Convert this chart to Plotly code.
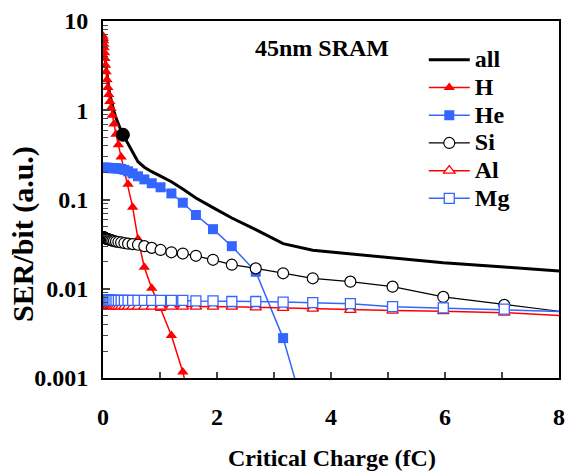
import plotly.graph_objects as go

# Critical charge grid (fC)
q = [0.0, 0.005, 0.01, 0.015, 0.02, 0.027, 0.035, 0.045, 0.055, 0.07, 0.085, 0.1,
     0.12, 0.14, 0.164, 0.193, 0.228, 0.27, 0.318, 0.375, 0.44, 0.52, 0.614, 0.725,
     0.855, 1.01, 1.2, 1.4, 1.63, 1.93, 2.26, 2.68, 3.16, 3.68, 4.34, 5.08, 5.97,
     7.04, 8.3]

ser_all = [7.1, 6.7, 6.3, 5.8, 5.3, 4.7, 4.1, 3.5, 3.0, 2.5, 2.1, 1.8,
           1.5, 1.3, 1.15, 0.97, 0.82, 0.69, 0.59, 0.50, 0.42, 0.33, 0.265, 0.23,
           0.205, 0.183, 0.158, 0.131, 0.104, 0.081, 0.062, 0.046, 0.032, 0.027, 0.0245, 0.022, 0.0195,
           0.0175, 0.0153]

ser_H = [6.8, 6.4, 6.0, 5.5, 5.0, 4.4, 3.8, 3.2, 2.7, 2.2, 1.8, 1.5,
         1.25, 1.05, 0.88, 0.70, 0.54, 0.41, 0.30, 0.21, 0.148, 0.082, 0.036, 0.0174,
         0.0101, 0.0060, 0.0030, 0.00117, 0.00028]

ser_He = [0.226, 0.226, 0.226, 0.226, 0.226, 0.226, 0.226, 0.226, 0.226, 0.226, 0.226, 0.226,
          0.225, 0.225, 0.225, 0.224, 0.224, 0.222, 0.220, 0.215, 0.207, 0.196, 0.182, 0.168,
          0.152, 0.137, 0.117, 0.092, 0.067, 0.0465, 0.030, 0.0155, 0.0028, 0.0002]

ser_Si = [0.038, 0.038, 0.0378, 0.0376, 0.0374, 0.0372, 0.037, 0.0368, 0.0365, 0.0362, 0.036, 0.0357,
          0.0353, 0.035, 0.0346, 0.0342, 0.0338, 0.0334, 0.033, 0.0325, 0.032, 0.0316, 0.0311, 0.030,
          0.0287, 0.0272, 0.0256, 0.0248, 0.0234, 0.0211, 0.0186, 0.0169, 0.0149, 0.0131, 0.0120, 0.01055, 0.0081,
          0.0066, 0.0053]

ser_Al = [0.0064, 0.0064, 0.0064, 0.0064, 0.0064, 0.0064, 0.0064, 0.0064, 0.0064, 0.0064, 0.0064, 0.0064,
          0.0063, 0.0063, 0.0063, 0.0063, 0.0063, 0.0063, 0.0063, 0.0063, 0.0063, 0.0063, 0.0063, 0.0063,
          0.0063, 0.0063, 0.0063, 0.0063, 0.0063, 0.0063, 0.0063, 0.0062, 0.0061, 0.0060, 0.0058, 0.0057, 0.0056,
          0.0054, 0.0049]

ser_Mg = [0.0075, 0.0075, 0.0075, 0.0075, 0.0075, 0.0075, 0.0075, 0.0075, 0.0075, 0.0075, 0.0075, 0.0075,
          0.0074, 0.0074, 0.0074, 0.0074, 0.0074, 0.0074, 0.0074, 0.0074, 0.0074, 0.0074, 0.0074, 0.0074,
          0.0074, 0.0074, 0.0074, 0.0074, 0.0073, 0.0073, 0.0072, 0.0072, 0.0071, 0.0070, 0.0068, 0.0063, 0.0061,
          0.0059, 0.0055]

dot_q = [0.35]
dot_ser = [0.53]

y_tickvals = [0.001, 0.01, 0.1, 1, 10]
y_ticktext = ["0.001", "0.01", "0.1", "1", "10"]
y_minor = [m * d for d in (0.001, 0.01, 0.1, 1) for m in range(2, 10)]

RED = "#FF0000"
BLUE = "#3366FF"
FONT = "Liberation Serif"


def lg(name):
    return f"<span style='font-size:24px'>{name}</span>"


fig = go.Figure()
fig.add_trace(go.Scatter(x=q, y=ser_all, name=lg("all"), mode="lines",
                         line=dict(color="black", width=3)))
fig.add_trace(go.Scatter(x=q[:len(ser_H)], y=ser_H, name=lg("H"), mode="lines+markers",
                         line=dict(color=RED, width=1.5),
                         marker=dict(symbol="triangle-up", size=10, color=RED)))
fig.add_trace(go.Scatter(x=q[:len(ser_He)], y=ser_He, name=lg("He"), mode="lines+markers",
                         line=dict(color=BLUE, width=1.5),
                         marker=dict(symbol="square", size=10, color=BLUE)))
fig.add_trace(go.Scatter(x=q, y=ser_Si, name=lg("Si"), mode="lines+markers",
                         line=dict(color="black", width=1.2),
                         marker=dict(symbol="circle", size=11, color="white",
                                     line=dict(color="black", width=1.2))))
fig.add_trace(go.Scatter(x=q, y=ser_Al, name=lg("Al"), mode="lines+markers",
                         line=dict(color=RED, width=1.5),
                         marker=dict(symbol="triangle-up", size=10, color="white",
                                     line=dict(color=RED, width=1.3))))
fig.add_trace(go.Scatter(x=q, y=ser_Mg, name=lg("Mg"), mode="lines+markers",
                         line=dict(color=BLUE, width=1.5),
                         marker=dict(symbol="square", size=10, color="white",
                                     line=dict(color=BLUE, width=1.3))))
fig.add_trace(go.Scatter(x=dot_q, y=dot_ser, mode="markers", showlegend=False,
                         marker=dict(symbol="circle", size=14, color="black")))

L, T, W, H = 103, 21, 462, 357


def px(xp):
    return (xp - L) / W


def py(yp):
    return 1 - (yp - T) / H


fig.update_layout(
    width=571, height=471,
    margin=dict(l=L, r=571 - L - W, t=T, b=471 - T - H),
    paper_bgcolor="white", plot_bgcolor="white",
    font=dict(family=FONT, size=24, color="black", weight="bold"),
    showlegend=True,
    legend=dict(x=px(428), y=py(41), xanchor="left", yanchor="top",
                bgcolor="rgba(0,0,0,0)", borderwidth=0, itemwidth=41,
                font=dict(family=FONT, size=19, color="black", weight="bold")),
    annotations=[
        dict(text="45nm SRAM", x=px(325), y=py(48), xref="paper", yref="paper",
             xanchor="center", yanchor="middle",
             showarrow=False, font=dict(family=FONT, size=24, weight="bold")),
        dict(text="Critical Charge (fC)", x=px(335), y=py(458), xref="paper", yref="paper",
             xanchor="center", yanchor="middle",
             showarrow=False, font=dict(family=FONT, size=24, weight="bold")),
        dict(text="SER/bit (a.u.)", x=px(22), y=py(234), xref="paper", yref="paper",
             xanchor="center", yanchor="middle",
             textangle=-90, showarrow=False, font=dict(family=FONT, size=30, weight="bold")),
    ],
)

fig.update_xaxes(range=[0, 8], dtick=2, tick0=0, ticks="inside", ticklen=6, tickwidth=1.5,
                 showline=True, linecolor="black", linewidth=2, mirror=True,
                 showgrid=False, zeroline=False, ticklabelstandoff=16,
                 minor=dict(dtick=1, ticks="inside", ticklen=6, tickwidth=1.5, showgrid=False))
fig.update_yaxes(type="log", range=[-3, 1], tickvals=y_tickvals, ticktext=y_ticktext,
                 ticks="inside", ticklen=7, tickwidth=1.5,
                 showline=True, linecolor="black", linewidth=2, mirror=True,
                 showgrid=False, zeroline=False, ticklabelstandoff=8,
                 minor=dict(tickvals=y_minor, ticks="inside", ticklen=5, tickwidth=1.2, showgrid=False))

fig.write_html("out.html")
